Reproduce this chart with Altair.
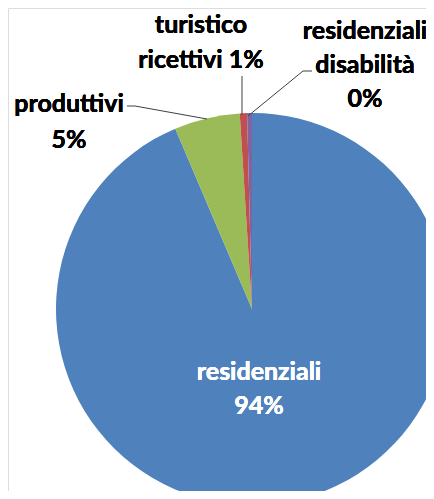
import altair as alt
import pandas as pd

# ---- data ----
categories = ["residenziali", "produttivi", "turistico ricettivi", "residenziali disabilità"]
shares = [93.6, 5.4, 0.6, 0.4]
slice_order = [1, 2, 3, 4]
colors = ["#4F81BD", "#9BBB59", "#C0504D", "#8064A2"]

pct = [f"{round(s)}%" for s in shares]

df = pd.DataFrame({"categoria": categories, "quota": shares, "ordine": slice_order})

FONT = "Lato"
FS = 25
CX, CY, R = 244, 301, 196

pie = alt.Chart(df).mark_arc(radius=R, stroke=None).encode(
    theta=alt.Theta("quota:Q", stack=True),
    color=alt.Color("categoria:N", scale=alt.Scale(domain=categories, range=colors), legend=None),
    order=alt.Order("ordine:Q"),
    x=alt.value(CX),
    y=alt.value(CY),
)

def label(lines, x, y, lh, color="#000000"):
    return alt.Chart(df).mark_text(
        text=lines, font=FONT, fontSize=FS, fontWeight="bold", color=color,
        align="center", baseline="alphabetic", lineHeight=lh,
    ).encode(x=alt.value(x), y=alt.value(y))

lab_res = label([categories[0], pct[0]], 251, 372, 34, "#FFFFFF")
lab_prod = label([categories[1], pct[1]], 61, 104, 36)
lab_tur = label(["turistico", f"ricettivi {pct[2]}"], 193, 25, 35)
lab_dis = label(["residenziali", "disabilità", pct[3]], 357, 31, 34)

# leader lines (pixel positions)
seg = pd.DataFrame({
    "x":  [119, 127, 234, 304, 295],
    "y":  [98, 98, 68, 63, 63],
    "x2": [127, 199, 234, 295, 240],
    "y2": [98, 111, 107, 63, 108],
})
leaders = alt.Chart(seg).mark_rule(color="#404040", strokeWidth=1).encode(
    x=alt.X("x:Q", scale=None), y=alt.Y("y:Q", scale=None),
    x2="x2:Q", y2="y2:Q",
)

chart = alt.layer(pie, leaders, lab_res, lab_prod, lab_tur, lab_dis).properties(
    width=418, height=483, padding=0, autosize=alt.AutoSizeParams(type="none"),
).configure_view(stroke=None).configure(background="#FFFFFF")

chart.save("out.html", embed_options={"renderer": "svg", "actions": False})
